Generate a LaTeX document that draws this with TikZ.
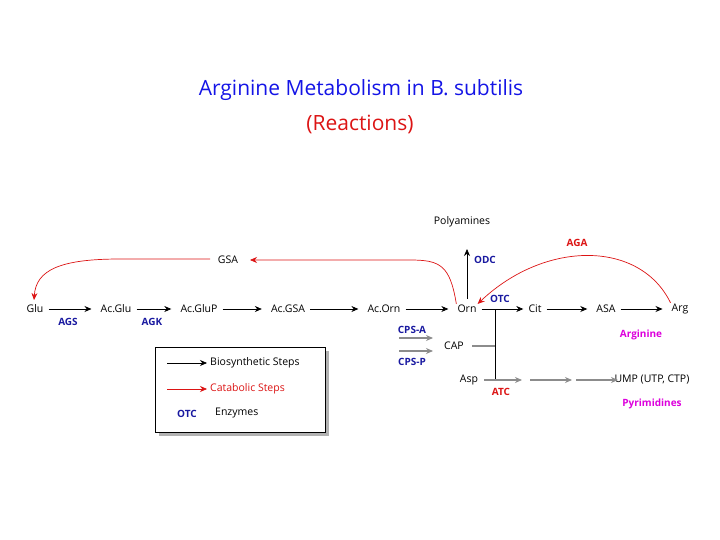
\documentclass[tikz,border=0pt]{standalone}
\usepackage{fontspec}
\setmainfont{Open Sans}
\usetikzlibrary{arrows.meta}
\definecolor{tblue}{RGB}{20,20,230}
\definecolor{eblue}{RGB}{25,25,160}
\definecolor{cred}{RGB}{220,20,20}
\definecolor{mag}{RGB}{220,0,220}
\definecolor{gr}{RGB}{140,140,140}
\begin{document}
\begin{tikzpicture}[x=1pt,y=-1pt,
  met/.style={inner sep=1pt,font=\fontsize{10.5}{12}\selectfont},
  enz/.style={inner sep=1pt,text=eblue,font=\bfseries\fontsize{10}{12}\selectfont},
  renz/.style={inner sep=1pt,text=cred,font=\bfseries\fontsize{10}{12}\selectfont},
  mlab/.style={inner sep=1pt,text=mag,font=\bfseries\fontsize{10}{12}\selectfont},
  bs/.style={-{Stealth[length=7pt,width=6pt]},line width=0.7pt,shorten <=4pt,shorten >=8pt},
  cat/.style={-{Stealth[length=7pt,width=6pt]},line width=0.7pt,cred},
  gry/.style={-{Stealth[length=7pt,width=6pt]},line width=1.5pt,gr}]
\useasboundingbox (0,0) rectangle (720,540);
\node[text=tblue,font=\fontsize{21}{24}\selectfont] (t1) at (361,90) {Arginine Metabolism in B. subtilis};
\node[text=cred,font=\fontsize{21}{24}\selectfont] (t2) at (360,124) {(Reactions)};
\node[met] (glu) at (35,309) {Glu};
\node[met] (acglu) at (116,309) {Ac.Glu};
\node[met] (acglup) at (199,309) {Ac.GluP};
\node[met] (acgsa) at (288,309) {Ac.GSA};
\node[met] (acorn) at (384,309) {Ac.Orn};
\node[met] (orn) at (467,309) {Orn};
\node[met] (cit) at (535,309) {Cit};
\node[met] (asa) at (606,309) {ASA};
\node[met] (arg) at (680,309) {Arg};
\node[met] (gsa) at (228,260) {GSA};
\node[met] (poly) at (462,222) {Polyamines};
\node[met] (cap) at (454,346) {CAP};
\node[met] (asp) at (469,380) {Asp};
\node[met] (ump) at (652,380) {UMP (UTP, CTP)};
\node[enz] (ags) at (68,322) {AGS};
\node[enz] (agk) at (152,322) {AGK};
\node[enz] (odc) at (485,260) {ODC};
\node[enz] (otc) at (500,299) {OTC};
\node[enz] (cpsa) at (412,330) {CPS-A};
\node[enz] (cpsp) at (412,362) {CPS-P};
\node[renz] (aga) at (577,243) {AGA};
\node[renz] (atc) at (501,392) {ATC};
\node[mlab] (argl) at (641,335) {Arginine};
\node[mlab] (pyr) at (652,404) {Pyrimidines};
\draw[bs] (glu) -- (acglu);
\draw[bs] (acglu) -- (acglup);
\draw[bs] (acglup) -- (acgsa);
\draw[bs] (acgsa) -- (acorn);
\draw[bs] (acorn) -- (orn);
\draw[bs,shorten >=4pt] (orn) -- (cit);
\draw[bs] (cit) -- (asa);
\draw[bs] (asa) -- (arg);
\coordinate (p1) at (467,299); \coordinate (p2) at (467,249);
\draw[-{Stealth[length=7pt,width=6pt]},line width=0.7pt] (p1) -- (p2);
\draw[cat] (orn.north west) .. controls (450,265) and (440,260) .. (410,260) -- (250,260);
\draw[cat] (210,259) -- (120,259) .. controls (60,259) and (36,270) .. (34,300);
\draw[cat] (arg.north west) .. controls (640,240) and (545,240) .. (orn.north east);
\coordinate (c1) at (399,338); \coordinate (c2) at (399,351);
\draw[gry] (c1) -- (433,338);
\draw[gry] (c2) -- (433,351);
\coordinate (v1) at (495,309); \coordinate (v2) at (495,380);
\draw[line width=0.7pt] (v1) -- (v2);
\draw[gr,line width=1.5pt] (472,346) -- (495,346);
\coordinate (a1) at (530,380); \coordinate (a2) at (572,380); \coordinate (a3) at (576,380);
\draw[gry] (484,380) -- (522,380);
\draw[gry] (a1) -- (a2);
\draw[gry] (a3) -- (618,380);
% legend
\fill[gray!60] (159,351) rectangle (329,436);
\draw[fill=white,line width=0.9pt] (155,347) rectangle (325,432);
\coordinate (l1) at (167,363); \coordinate (l2) at (207,363);
\coordinate (l3) at (167,389); \coordinate (l4) at (207,389);
\draw[-{Stealth[length=7pt,width=6pt]},line width=0.7pt] (l1) -- (l2);
\draw[cat] (l3) -- (l4);
\node[met,anchor=west] (lb) at (209,363) {Biosynthetic Steps};
\node[met,anchor=west,text=cred] (lc) at (209,389) {Catabolic Steps};
\node[enz] (lo) at (187,414) {OTC};
\node[met,anchor=west] (le) at (214,413) {Enzymes};
\end{tikzpicture}
\end{document}
